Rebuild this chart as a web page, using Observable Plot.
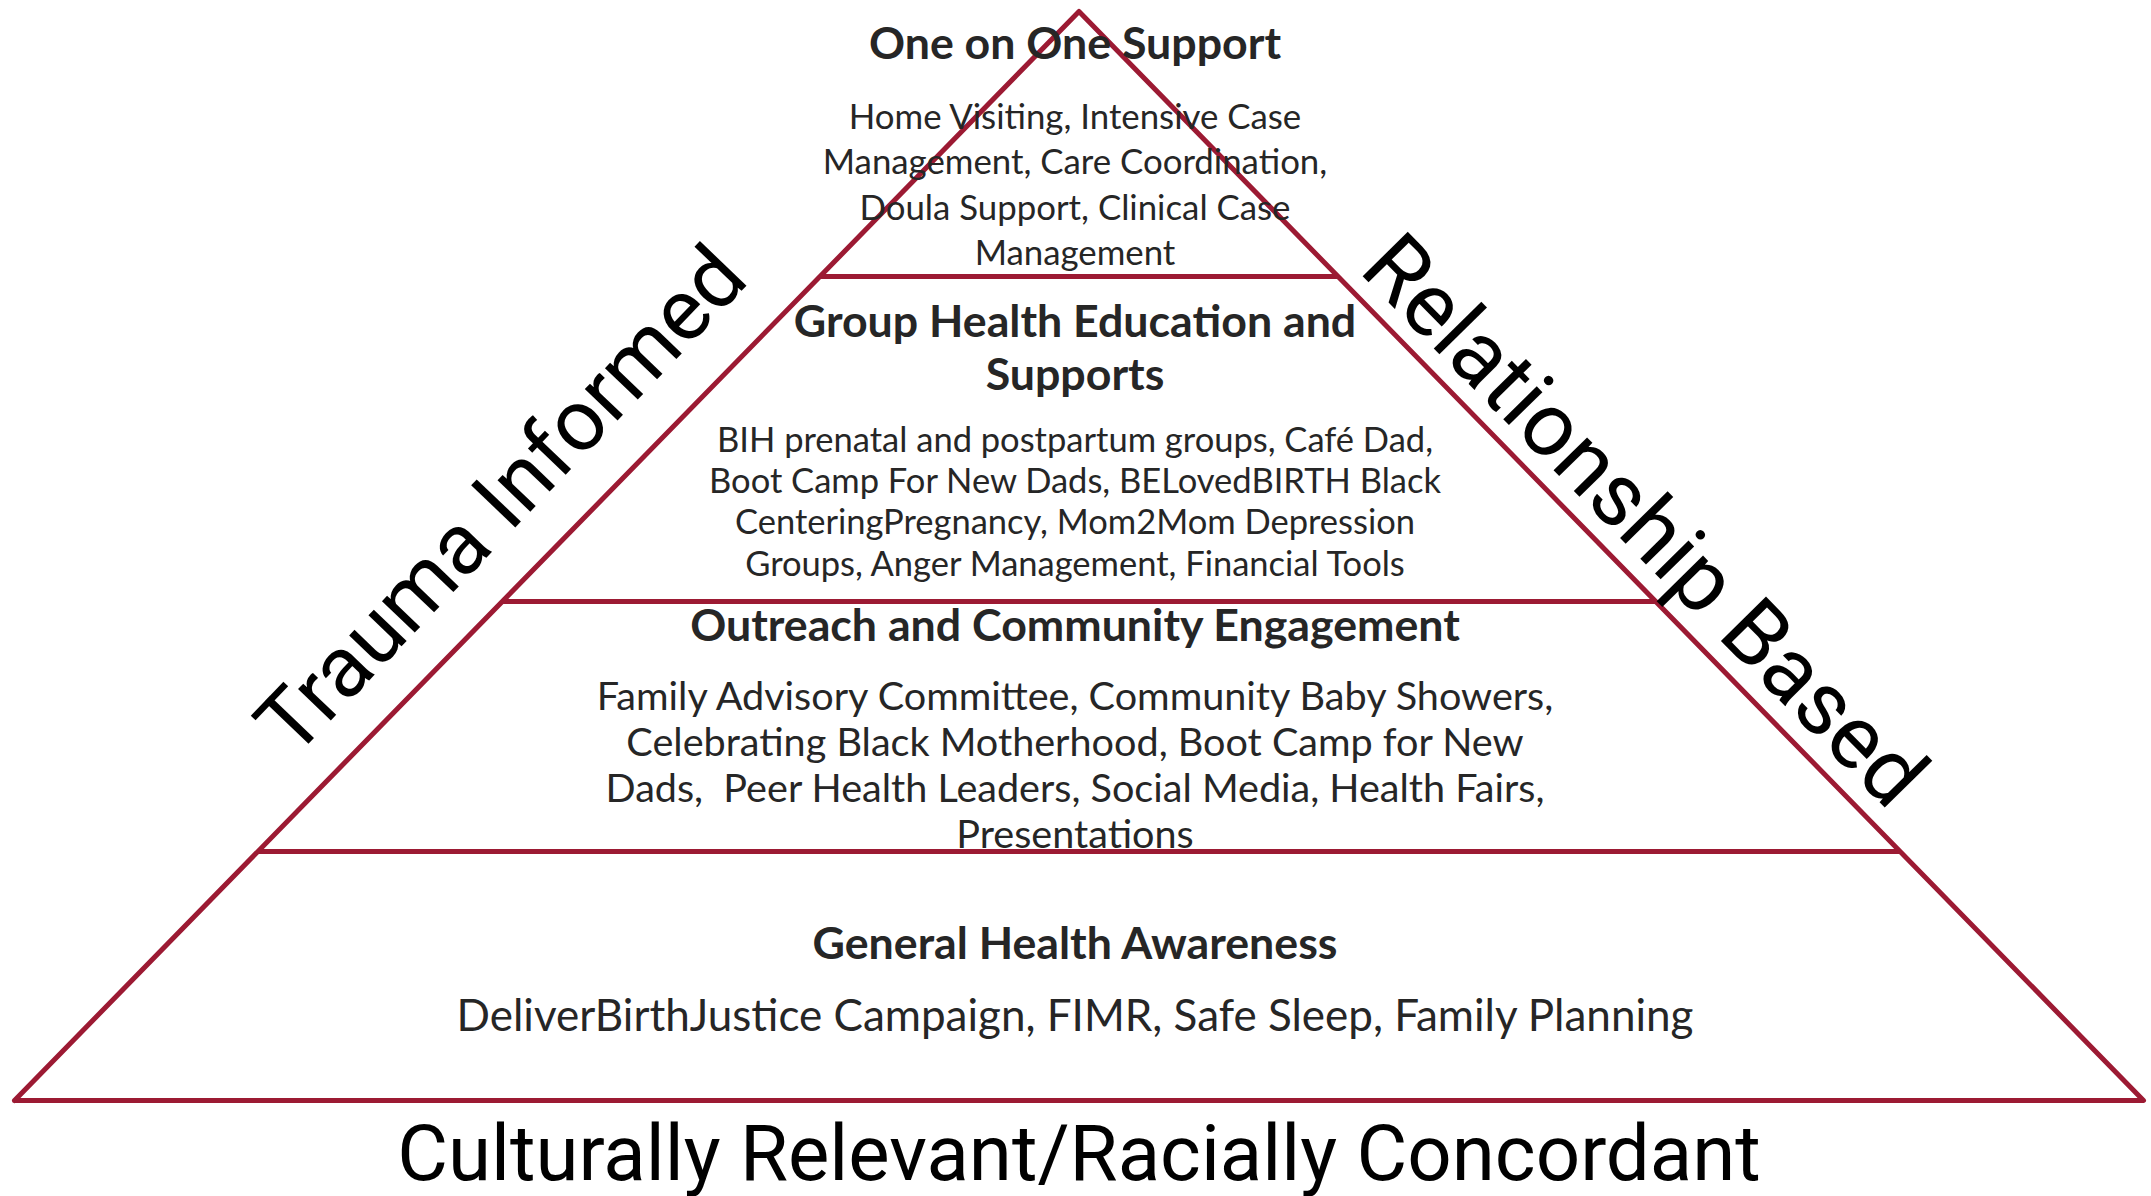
<!DOCTYPE html>
<html><head><meta charset="utf-8">
<script src="https://cdn.jsdelivr.net/npm/d3@7"></script>
<script src="https://cdn.jsdelivr.net/npm/@observablehq/plot@0.6"></script>
<style>
html,body{margin:0;padding:0;background:#fff;}
#chart svg{display:block;}
</style>
</head><body><div id="chart"></div>
<script>
// ---- data (tiers listed bottom to top) ----
const tierTitles = [
  "General Health Awareness",
  "Outreach and Community Engagement",
  "Group Health Education and\nSupports",
  "One on One Support"
];
const tierBodies = [
  ["DeliverBirthJustice Campaign, FIMR, Safe Sleep, Family Planning"],
  ["Family Advisory Committee, Community Baby Showers,",
   "Celebrating Black Motherhood, Boot Camp for New",
   "Dads,  Peer Health Leaders, Social Media, Health Fairs,",
   "Presentations"],
  ["BIH prenatal and postpartum groups, Café Dad,",
   "Boot Camp For New Dads, BELovedBIRTH Black",
   "CenteringPregnancy, Mom2Mom Depression",
   "Groups, Anger Management, Financial Tools"],
  ["Home Visiting, Intensive Case",
   "Management, Care Coordination,",
   "Doula Support, Clinical Case",
   "Management"]
];
// tier boundaries as a share of the pyramid height (0 = base, 1 = apex)
const tierBottoms = [0, 0.2287, 0.4582, 0.7567];
const tierTops    = [0.2287, 0.4582, 0.7567, 1];
const sideLabels  = ["Trauma Informed", "Relationship Based"];
const sideLevels  = [0.508, 0.495];
const baseLabel   = "Culturally Relevant/Racially Concordant";

// ---- styles / layout ----
const RED = "#9c1a33";
const INK = "#262626";
const TITLE_FONT = "Lato, 'Open Sans', sans-serif";
const SIDE_FONT = "Roboto, 'Open Sans', sans-serif";
const titleSize = 44.7;
const titleLH = 1.2;
const bodySize = [44, 39.6, 34.5, 34.8];
const bodyLH = [1.2, 1.16, 1.19, 1.3];
const gap = [73, 71, 66, 73];
const shift = 2;
const textDx = -4;

const halfWidth = v => 1 - v; // pyramid: half-width shrinks linearly to the apex

const tiers = tierTitles.map((t, i) => ({
  title: t,
  body: tierBodies[i].join("\n"),
  mid: (tierBottoms[i] + tierTops[i]) / 2,
  i
}));

const outline = [
  {u: -halfWidth(tierBottoms[0]), v: tierBottoms[0]},
  {u: 0, v: tierTops[tierTops.length - 1]},
  {u: halfWidth(tierBottoms[0]), v: tierBottoms[0]},
  {u: -halfWidth(tierBottoms[0]), v: tierBottoms[0]}
];
const dividers = tierBottoms.slice(1);

const marks = [];
marks.push(Plot.ruleY(dividers, {
  y: d => d, x1: d => -halfWidth(d), x2: d => halfWidth(d),
  stroke: RED, strokeWidth: 5
}));
marks.push(Plot.line(outline, {
  x: "u", y: "v", stroke: RED, strokeWidth: 5,
  strokeLinejoin: "round", strokeLinecap: "round"
}));

tiers.forEach(t => {
  const tl = t.title.split("\n").length;
  const bl = tierBodies[t.i].length;
  const tStep = titleSize * titleLH;
  const bStep = bodySize[t.i] * bodyLH[t.i];
  const H = (tl - 1) * tStep + gap[t.i] + (bl - 1) * bStep;
  const titleDy = -H / 2 + (tl - 1) * tStep / 2 + shift;
  const bodyDy = H / 2 - (bl - 1) * bStep / 2 + shift;
  marks.push(Plot.text([t], {
    x: () => 0, y: "mid", text: "title",
    fontFamily: TITLE_FONT, fontWeight: "bold", fontSize: titleSize,
    lineHeight: titleLH, fill: INK, textAnchor: "middle", lineAnchor: "middle",
    dx: textDx, dy: titleDy
  }));
  marks.push(Plot.text([t], {
    x: () => 0, y: "mid", text: "body",
    fontFamily: TITLE_FONT, fontSize: bodySize[t.i],
    lineHeight: bodyLH[t.i], fill: INK, textAnchor: "middle", lineAnchor: "middle",
    dx: textDx, dy: bodyDy
  }));
});

// side labels, parallel to the pyramid's edges
const sideAngle = [-46.3, 45.5];
const sideSize = [86, 89];
const sideOffset = [[-53, -46], [27, -40]];
sideLabels.forEach((s, k) => {
  const sign = k === 0 ? -1 : 1;
  marks.push(Plot.text([s], {
    x: () => sign * halfWidth(sideLevels[k]), y: () => sideLevels[k],
    text: d => d, rotate: sideAngle[k],
    fontFamily: SIDE_FONT, fontSize: sideSize[k], fill: "#000",
    textAnchor: "middle", lineAnchor: "middle",
    dx: sideOffset[k][0], dy: sideOffset[k][1]
  }));
});

marks.push(Plot.text([baseLabel], {
  x: () => 0, y: () => tierBottoms[0], text: d => d,
  fontFamily: SIDE_FONT, fontSize: 78, fill: "#000",
  textAnchor: "middle", lineAnchor: "middle", dy: 55
}));

const chart = Plot.plot({
  width: 2151, height: 1196,
  margin: 0,
  x: {domain: [-1, 1], range: [14, 2143], axis: null},
  y: {domain: [0, 1], range: [1100, 11], axis: null},
  style: {background: "#fff", overflow: "visible"},
  marks
});
document.getElementById("chart").appendChild(chart);
</script>
</body></html>
